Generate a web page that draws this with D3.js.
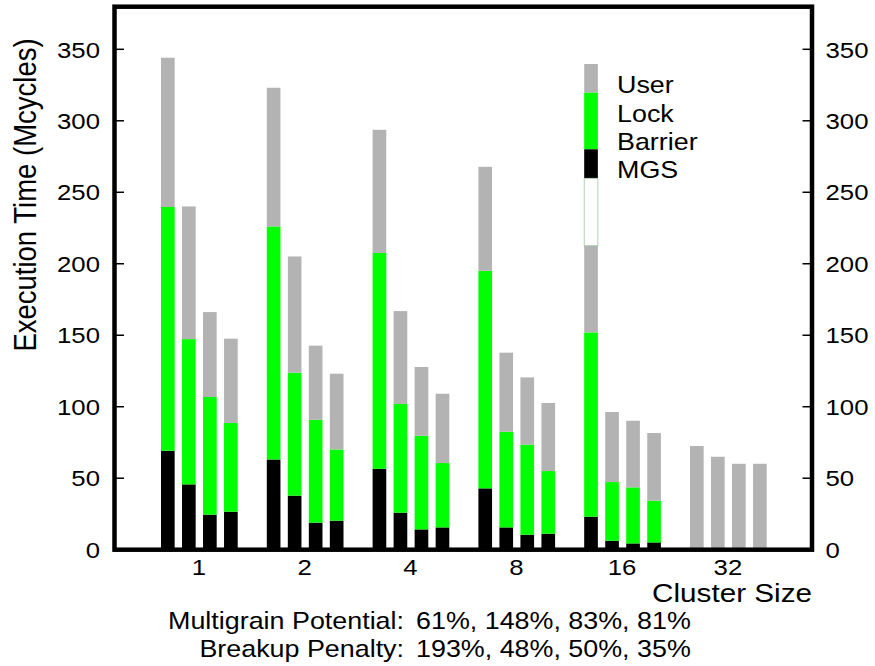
<!DOCTYPE html>
<html><head><meta charset="utf-8">
<script src="https://cdn.jsdelivr.net/npm/d3@7"></script>
<style>
body{margin:0;background:#fff}
svg{display:block}
text{font-family:"Liberation Sans",Arial,Helvetica,sans-serif;fill:#000}
</style>
</head><body><svg id="c" width="875" height="666"></svg>
<script>
// ---------- data ----------
const clusterSizes = ["1","2","4","8","16","32"];
const barIndex = [0,1,2,3];
// segment heights in Mcycles, 4 bars per cluster size (bottom -> top: Barrier, Lock, User)
const barrierTime = [69.2,45.7,24.5,26.6, 63.1,37.8,18.9,20.3, 56.6,25.9,14.2,15.6, 42.9,15.6,10.5,11.2, 23.1,6.3,4.4,5.1, 0,0,0,0];
const lockTime    = [170.5,101.6,82.3,62.0, 163.0,86.0,72.0,49.8, 150.9,76.0,65.5,45.0, 152.2,66.9,62.9,43.8, 128.9,41.0,39.2,29.2, 0,0,0,0];
const userTime    = [104.4,92.8,59.4,59.0, 97.0,81.3,51.8,53.0, 86.2,65.0,48.1,48.5, 72.7,55.3,47.1,47.6, 60.8,49.0,46.6,47.3, 72.5,65.0,60.1,60.1];
const yTicks = [0,50,100,150,200,250,300,350];
const legendLabels = ["User","Lock","Barrier","MGS"];
const potentialValues = ["61%","148%","83%","81%"];
const penaltyValues = ["193%","48%","50%","35%"];

const seriesKeys = ["Barrier","Lock","User"];
const seriesColor = {Barrier:"#000000", Lock:"#00ff00", User:"#b3b3b3", MGS:"#ffffff"};

const rows = clusterSizes.flatMap((g,gi)=>barIndex.map(b=>({
  g, b,
  Barrier: barrierTime[gi*4+b],
  Lock: lockTime[gi*4+b],
  User: userTime[gi*4+b]
})));

// ---------- layout ----------
const svg = d3.select("#c");
const frame = {left:114.5, right:812, top:6.7, bottom:549.7};
const SX = 1.12; // horizontal text stretch

const y = d3.scaleLinear().domain([0,350]).range([frame.bottom, 49.3]);
const x0 = d3.scaleBand().domain(clusterSizes).range([146, 146+6*105.8]).padding(0);
const x1 = d3.scaleBand().domain(barIndex).range([15, 91.7]).paddingInner(0.35).paddingOuter(0);

function txt(g, xx, yy, s, size, anchor, sx=SX){
  return g.append("text").attr("transform",`translate(${xx},${yy}) scale(${sx},1)`)
    .attr("text-anchor",anchor).attr("font-size",size).text(s);
}

// ---------- bars ----------
const stacked = d3.stack().keys(seriesKeys)(rows);
svg.append("g").selectAll("g").data(stacked).join("g")
  .attr("fill", s=>seriesColor[s.key])
  .selectAll("rect").data(s=>s.filter(d=>d[1]-d[0]>0)).join("rect")
  .attr("x", d=>x0(d.data.g)+x1(d.data.b))
  .attr("width", x1.bandwidth())
  .attr("y", d=>y(d[1]))
  .attr("height", d=>y(d[0])-y(d[1]));

// ---------- legend (stacked key drawn over the bar area) ----------
const lg = svg.append("g");
const keyX = x0("16")+x1(0), keyW = x1.bandwidth();
const keyBreaks = [64, 92.7, 149.3, 178.3, 245.7];
legendLabels.forEach((lab,i)=>{
  const c = seriesColor[lab];
  lg.append("rect").attr("x",keyX).attr("y",keyBreaks[i]).attr("width",keyW)
    .attr("height",keyBreaks[i+1]-keyBreaks[i]).attr("fill",c)
    .attr("stroke", lab==="MGS" ? "#9fc79f" : "none").attr("stroke-width",0.8);
});
const legendBase = [93, 121.5, 150, 178];
legendLabels.forEach((lab,i)=> txt(lg, 617, legendBase[i], lab, 24, "start"));

// ---------- frame & axes ----------
svg.append("rect").attr("x",frame.left).attr("y",frame.top)
  .attr("width",frame.right-frame.left).attr("height",frame.bottom-frame.top)
  .attr("fill","none").attr("stroke","#000").attr("stroke-width",4.5);

const ax = svg.append("g");
yTicks.forEach(t=>{
  ax.append("line").attr("x1",frame.left).attr("x2",frame.left+9.5).attr("y1",y(t)).attr("y2",y(t))
    .attr("stroke","#000").attr("stroke-width",1.5);
  ax.append("line").attr("x1",frame.right-9.5).attr("x2",frame.right).attr("y1",y(t)).attr("y2",y(t))
    .attr("stroke","#000").attr("stroke-width",1.5);
  txt(ax, 100, y(t)+8.2, String(t), 23, "end");
  txt(ax, 825.5, y(t)+8.2, String(t), 23, "start");
});

clusterSizes.forEach(g=>{
  txt(ax, x0(g)+x0.bandwidth()/2, 575, g, 23, "middle");
});

txt(ax, 812, 602, "Cluster Size", 26.5, "end");

svg.append("text").attr("transform","translate(36,195) scale(1.12,1) rotate(-90)")
  .attr("text-anchor","middle").attr("font-size",27.5).text("Execution Time (Mcycles)");

// ---------- footnotes ----------
txt(svg, 404, 629, "Multigrain Potential:", 24, "end");
txt(svg, 416, 629, potentialValues.join(", "), 24, "start");
txt(svg, 404, 657, "Breakup Penalty:", 24, "end");
txt(svg, 416, 657, penaltyValues.join(", "), 24, "start");
</script>
</body></html>
